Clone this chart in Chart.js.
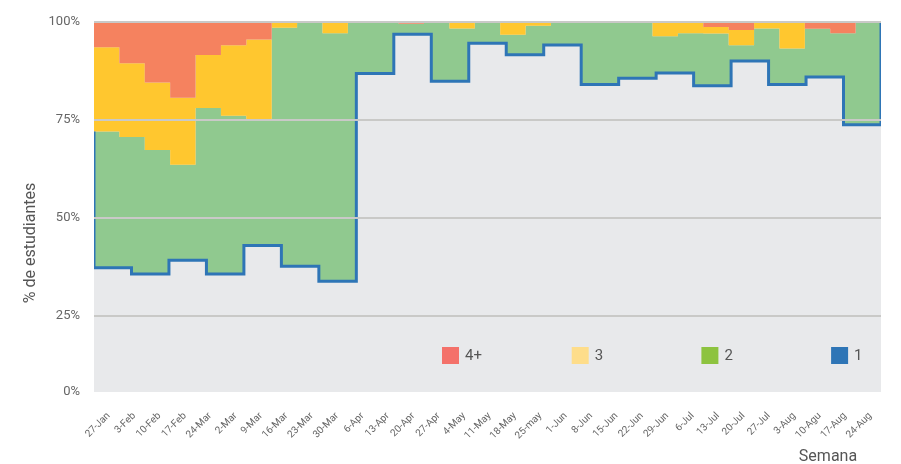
<!DOCTYPE html>
<html lang="es">
<head>
<meta charset="UTF-8">
<title>% de estudiantes por semana</title>
<script src="https://cdn.jsdelivr.net/npm/chart.js"></script>
<style>
  html, body { margin: 0; padding: 0; background: #fff; }
  #wrap { width: 901px; height: 464px; }
</style>
</head>
<body>
<div id="wrap"><canvas id="chart" width="901" height="464"></canvas></div>
<script>
// weeks on the x axis (the stacked areas use one band per week)
const weeks = ['27-Jan','3-Feb','10-Feb','17-Feb','24-Mar','2-Mar','9-Mar','16-Mar','23-Mar','30-Mar',
  '6-Apr','13-Apr','20-Apr','27-Apr','4-May','11-May','18-May','25-may','1-Jun','8-Jun',
  '15-Jun','22-Jun','29-Jun','6-Jul','13-Jul','20-Jul','27-Jul','3-Aug','10-Agu','17-Aug','24-Aug'];

// % of students with 4+ and with 3 (top of the stack), rest is 2
const share4 = [6.5, 10.6, 15.5, 19.4, 8.5, 6, 4.5, 0, 0, 0,
  0, 0, 0.5, 0, 0, 0, 0, 0, 0, 0,
  0, 0, 0, 0, 1.3, 2.1, 0, 0, 1.8, 2.9, 0];
const share3 = [21.5, 18.8, 17.2, 17.1, 13.5, 18, 20.3, 1.5, 0, 2.9,
  0, 0, 0, 0.3, 1.7, 0, 3.3, 1, 0, 0,
  0, 0, 3.7, 2.9, 1.7, 3.9, 1.7, 6.8, 0, 0, 0];

// the "1" step line has its own 21 steps across the plot
const share1 = [37.2, 35.6, 39.1, 35.6, 42.9, 37.6, 33.8, 86.8, 96.8, 84.8,
  94.5, 91.6, 94.1, 84, 85.6, 86.9, 83.7, 90, 84, 85.9, 73.7];
const share1Start = 72;
const share1End = 100;

const yBottom = 5.5;
const yTickValues = [yBottom, 25, 50, 75, 100];
const yTickLabels = ['0%', '25%', '50%', '75%', '100%'];

const legendLabels = ['4+', '3', '2', '1'];
const legendColors = ['#f4716a', '#fedd8a', '#8dc33f', '#2e75b6'];

const BG = '#e8e9eb';

const greenTop = weeks.map((w, i) => 100 - share4[i] - share3[i]);
const yellowTop = weeks.map((w, i) => 100 - share4[i]);
const orangeTop = weeks.map(() => 100);

// one point per band edge, last value repeated to close the last band
function bands(vals) {
  const pts = vals.map((v, i) => ({ x: i, y: v }));
  pts.push({ x: vals.length, y: vals[vals.length - 1] });
  return pts;
}
const bluePts = [{ x: 0, y: share1Start }]
  .concat(share1.map((v, i) => ({ x: i + 1, y: v })))
  .concat([{ x: share1.length, y: share1End }]);

const plotBg = {
  id: 'plotBg',
  beforeDraw(chart) {
    const a = chart.chartArea, ctx = chart.ctx;
    ctx.save();
    ctx.fillStyle = BG;
    ctx.fillRect(a.left, a.top, a.right - a.left, a.bottom - a.top);
    ctx.restore();
  }
};

const extras = {
  id: 'extras',
  afterDraw(chart) {
    const ctx = chart.ctx;
    ctx.save();
    // axis titles
    ctx.fillStyle = '#555';
    ctx.font = '16px Roboto';
    ctx.textAlign = 'center';
    ctx.textBaseline = 'middle';
    ctx.fillText('Semana', 828, 457);
    ctx.translate(31, 243);
    ctx.rotate(-Math.PI / 2);
    ctx.fillText('% de estudiantes', 0, 0);
    ctx.restore();

    // legend inside the plot
    ctx.save();
    ctx.font = '15px Roboto';
    ctx.textAlign = 'left';
    ctx.textBaseline = 'middle';
    legendLabels.forEach((lab, i) => {
      const x = 442 + i * 129.7;
      ctx.fillStyle = legendColors[i];
      ctx.fillRect(x, 347, 17, 17);
      ctx.fillStyle = '#555';
      ctx.fillText(lab, x + 23, 356);
    });
    ctx.restore();
  }
};

const noLine = 'rgba(0,0,0,0)';

new Chart(document.getElementById('chart'), {
  type: 'line',
  data: {
    datasets: [
      { label: '2', data: bands(greenTop), xAxisID: 'x', stepped: true, fill: 'start',
        backgroundColor: '#90c98f', borderColor: noLine, borderWidth: 0, pointRadius: 0, order: 3 },
      { label: '3', data: bands(yellowTop), xAxisID: 'x', stepped: true, fill: 0,
        backgroundColor: '#ffc72f', borderColor: noLine, borderWidth: 0, pointRadius: 0, order: 2 },
      { label: '4+', data: bands(orangeTop), xAxisID: 'x', stepped: true, fill: 1,
        backgroundColor: '#f5825f', borderColor: noLine, borderWidth: 0, pointRadius: 0, order: 1 },
      { label: '1', data: bluePts, xAxisID: 'x2', stepped: 'after', fill: 'start',
        backgroundColor: BG, borderColor: '#2e75b6', borderWidth: 3, pointRadius: 0, order: 0 }
    ]
  },
  options: {
    responsive: false,
    animation: false,
    layout: { padding: { top: 19, right: 20, left: 0, bottom: 0 } },
    plugins: { legend: { display: false }, tooltip: { enabled: false } },
    scales: {
      x: {
        type: 'linear', min: 0, max: weeks.length,
        grid: { display: false }, border: { display: false },
        afterBuildTicks: s => { s.ticks = weeks.map((w, i) => ({ value: i + 0.5 })); },
        afterFit: s => { s.height = 72; },
        ticks: {
          autoSkip: false, maxRotation: 45, minRotation: 45, padding: 10, labelOffset: 2,
          color: '#666', font: { family: 'Roboto', size: 10 },
          callback: (v, i) => weeks[i]
        }
      },
      x2: { type: 'linear', min: 0, max: share1.length, display: false },
      y: {
        min: yBottom, max: 100,
        afterBuildTicks: s => { s.ticks = yTickValues.map(v => ({ value: v })); },
        afterFit: s => { s.width = 94; },
        border: { display: false },
        grid: {
          z: 1, lineWidth: 2, drawTicks: false,
          color: c => (c.tick && c.tick.value === yBottom) ? noLine : '#c9c9c7'
        },
        ticks: {
          padding: 14, color: '#666', font: { family: 'Roboto', size: 13 },
          callback: (v, i) => yTickLabels[i]
        }
      }
    }
  },
  plugins: [plotBg, extras]
});
</script>
</body>
</html>
